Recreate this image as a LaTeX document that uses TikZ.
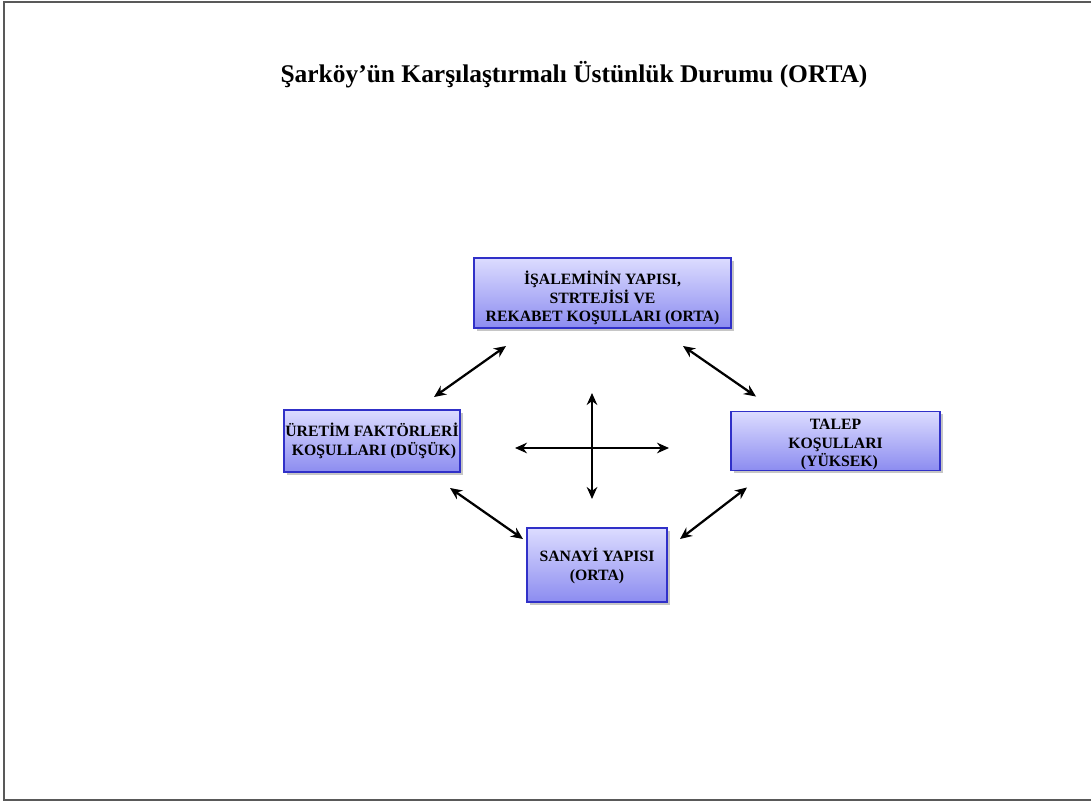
\documentclass[tikz,border=0pt]{standalone}
\usepackage{fontspec}
\setmainfont{Liberation Serif}
\usepackage{xcolor}
\usetikzlibrary{shapes,shadows,arrows,arrows.meta,calc}

\definecolor{boxTop}{HTML}{DCDCFF}
\definecolor{boxBottom}{HTML}{8C8CF0}
\definecolor{boxEdge}{HTML}{3030C8}

\tikzstyle{tsBoxText} = [
    text=black,
    font=\bfseries\fontsize{11.2}{13.2}\selectfont,
    align=center
]
\tikzstyle{tsBox} = [
    rectangle,
    tsBoxText,
    draw=boxEdge,
    line width=1.4pt,
    top color=boxTop,
    bottom color=boxBottom,
    drop shadow={shadow xshift=2pt, shadow yshift=-2pt, opacity=0.45},
    inner sep=0pt
]
\tikzstyle{tsArrow} = [
    {Stealth[length=8.5pt,width=7.5pt]}-{Stealth[length=8.5pt,width=7.5pt]},
    line width=1.6pt,
    black
]

\begin{document}
\begin{tikzpicture}[x=0.025cm, y=-0.025cm]

        \useasboundingbox (0,0) rectangle (1091,802);
        % frame
        \draw[gray!70!black, line width=1.5pt] (1091,2) -- (4,2) -- (4,800) -- (1091,800);

        \node[font=\bfseries\fontsize{18.1}{20}\selectfont] (title) at (574,75)
            {Şarköy’ün Karşılaştırmalı Üstünlük Durumu (ORTA)};

        \node[  tsBox,
                minimum width=257*0.025cm,
                minimum height=70*0.025cm] (isalemi) at (602.5,293)
                {\rule{0pt}{17pt}İŞALEMİNİN YAPISI,\\ STRTEJİSİ VE\\ REKABET KOŞULLARI (ORTA)};

        \node[  tsBox,
                minimum width=176*0.025cm,
                minimum height=62*0.025cm] (uretim) at (372,441)
                {ÜRETİM FAKTÖRLERİ\\ \ KOŞULLARI (DÜŞÜK)};

        \node[  tsBox,
                minimum width=209*0.025cm,
                minimum height=59*0.025cm] (talep) at (835.5,441)
                {\rule{0pt}{12.5pt}TALEP\\ KOŞULLARI\\ \ \ (YÜKSEK)};

        \node[  tsBox,
                minimum width=140*0.025cm,
                minimum height=74*0.025cm] (sanayi) at (597,565)
                {\rule{0pt}{11pt}SANAYİ YAPISI\\ (ORTA)};

        % arrow ends
        \coordinate (tl1) at ($(uretim.north east)+(-27,-12)$);
        \coordinate (tl2) at ($(isalemi.south west)+(33,17)$);
        \coordinate (tr1) at ($(isalemi.south east)+(-49,17)$);
        \coordinate (tr2) at ($(talep.north west)+(26,-14)$);
        \coordinate (bl1) at ($(uretim.south east)+(-11,15)$);
        \coordinate (bl2) at ($(sanayi.north west)+(-3,12)$);
        \coordinate (br1) at ($(sanayi.north east)+(12,12)$);
        \coordinate (br2) at ($(talep.south west)+(17,16)$);
        \coordinate (mid) at (592,448);

        \draw[tsArrow] (tl1) -- (tl2);
        \draw[tsArrow] (tr1) -- (tr2);
        \draw[tsArrow] (bl1) -- (bl2);
        \draw[tsArrow] (br1) -- (br2);

        \draw[tsArrow] ($(mid)+(-77,0)$) -- ($(mid)+(77,0)$);
        \draw[tsArrow] ($(mid)+(0,-55)$) -- ($(mid)+(0,51)$);

\end{tikzpicture}
\end{document}
